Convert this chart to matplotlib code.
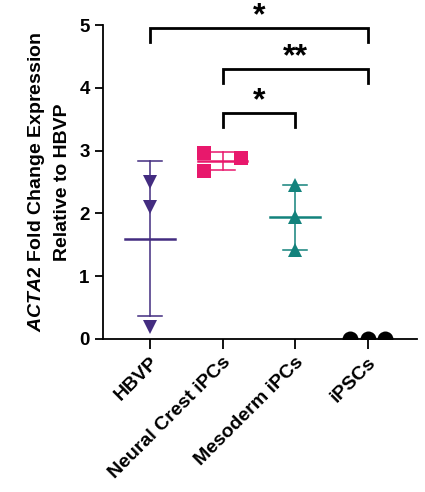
import numpy as np
import matplotlib
matplotlib.use("Agg")
import matplotlib.pyplot as plt

# fonts: Arial-like bold everywhere, italic gene name through mathtext
plt.rcParams['font.family'] = ['Liberation Sans', 'DejaVu Sans']
plt.rcParams['font.weight'] = 'bold'
plt.rcParams['mathtext.fontset'] = 'custom'
plt.rcParams['mathtext.it'] = 'Liberation Sans:italic:bold'
plt.rcParams['mathtext.rm'] = 'Liberation Sans:bold'

# data
groups = ["HBVP", "Neural Crest iPCs", "Mesoderm iPCs", "iPSCs"]
hbvp = [2.50, 2.10, 0.19]
neural_crest = [2.96, 2.68, 2.88]
mesoderm = [2.45, 1.94, 1.42]
ipscs = [0.0, 0.0, 0.0]

# horizontal scatter of the points within each group (like a beeswarm)
hbvp_jitter = [0.0, 0.0, 0.0]
neural_crest_jitter = [-0.25, -0.25, 0.25]
mesoderm_jitter = [0.0, 0.0, 0.0]
ipscs_jitter = [-0.24, 0.0, 0.24]

colors = ["#432C80", "#E8186C", "#13827C", "#000000"]
markers = ["v", "s", "^", "o"]
marker_sizes = [10, 10, 10, 11.5]

# significance brackets: (left group, right group, height, label)
brackets = [(0, 3, 4.95, "*"), (1, 3, 4.30, "**"), (1, 2, 3.60, "*")]

all_values = [hbvp, neural_crest, mesoderm, ipscs]
all_jitter = [hbvp_jitter, neural_crest_jitter, mesoderm_jitter, ipscs_jitter]

fig = plt.figure(figsize=(4.25, 4.92), dpi=100)
ax = fig.add_axes([0.242, 0.311, 0.739, 0.638])

for i, values in enumerate(all_values):
    mean = np.mean(values)
    sd = np.std(values, ddof=1)
    color = colors[i]
    if sd > 0.02:
        # SD error bar with caps
        ax.plot([i, i], [mean - sd, mean + sd], color=color, lw=1.1, zorder=2)
        for y in (mean - sd, mean + sd):
            ax.plot([i - 0.17, i + 0.17], [y, y], color=color, lw=1.1, zorder=2)
        # mean line
        ax.plot([i - 0.34, i + 0.34], [mean, mean], color=color, lw=1.8, zorder=2)
    xs = [i + j for j in all_jitter[i]]
    ax.plot(xs, values, linestyle="none", marker=markers[i], ms=marker_sizes[i],
            color=color, markeredgewidth=0, zorder=3)

# significance brackets
for left, right, h, label in brackets:
    drop = 0.22
    ax.plot([left, left, right, right], [h - drop, h, h, h - drop],
            color="black", lw=2, clip_on=False, solid_joinstyle="miter")
    # asterisks sit high in their text box, so anchor on the baseline
    ax.text((left + right) / 2, h + 0.06, label, ha="center", va="baseline",
            fontsize=23, fontweight="bold", clip_on=False)

ax.set_xlim(-0.65, 3.68)
ax.set_ylim(0, 5)
ax.set_yticks([0, 1, 2, 3, 4, 5])
ax.set_xticks(range(len(groups)))
ax.set_xticklabels(groups, rotation=45, ha="right", rotation_mode="anchor",
                   fontsize=14, fontweight="bold")
ax.tick_params(axis="y", labelsize=13.5, width=1.3, length=6)
ax.tick_params(axis="x", width=1.3, length=7)
for lbl in ax.get_yticklabels():
    lbl.set_fontweight("bold")

ax.spines["top"].set_visible(False)
ax.spines["right"].set_visible(False)
ax.spines["left"].set_linewidth(1.3)
ax.spines["bottom"].set_linewidth(1.3)

ax.set_ylabel("$\\it{ACTA2}$ Fold Change Expression\nRelative to HBVP",
              fontsize=14, fontweight="bold", linespacing=1.5, labelpad=6)

fig.savefig("out.png", dpi=100)
